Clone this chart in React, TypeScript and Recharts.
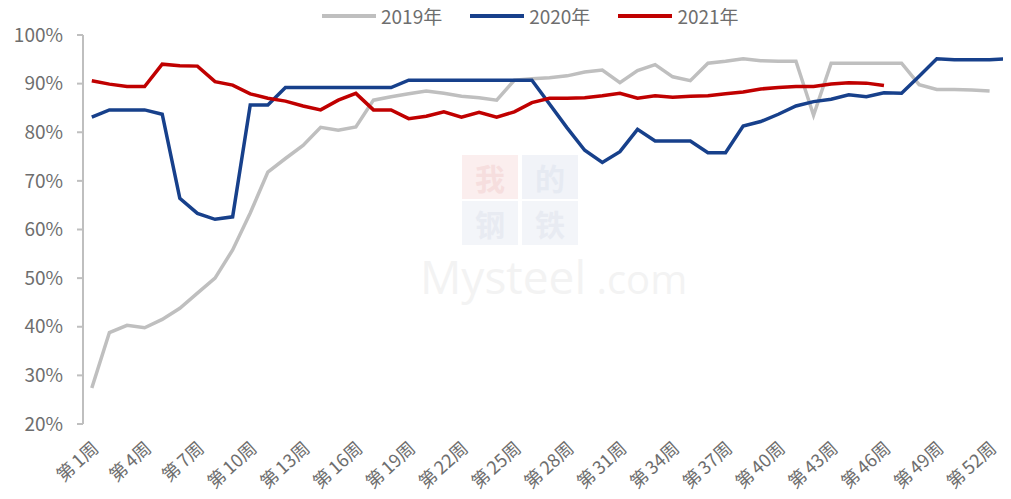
import { LineChart, Line, XAxis, YAxis } from 'recharts'

const weeks = [
  1, 2, 3, 4, 5, 6, 7, 8, 9, 10, 11, 12, 13, 14, 15, 16, 17, 18, 19, 20, 21, 22, 23, 24, 25, 26, 27,
  28, 29, 30, 31, 32, 33, 34, 35, 36, 37, 38, 39, 40, 41, 42, 43, 44, 45, 46, 47, 48, 49, 50, 51, 52, 53,
]

const labelWeeks = [1, 4, 7, 10, 13, 16, 19, 22, 25, 28, 31, 34, 37, 40, 43, 46, 49, 52]

const yTicks = [20, 30, 40, 50, 60, 70, 80, 90, 100]

const y2019 = [
  27.4, 38.8, 40.3, 39.8, 41.5, 43.8, 46.9, 50.0, 55.8, 63.4, 71.8, 74.6, 77.3, 81.0, 80.4, 81.1, 86.6,
  87.3, 87.9, 88.5, 88.0, 87.4, 87.1, 86.6, 90.7, 91.0, 91.2, 91.6, 92.4, 92.8, 90.2, 92.7, 93.9, 91.4,
  90.6, 94.2, 94.6, 95.1, 94.7, 94.6, 94.6, 83.5, 94.2, 94.2, 94.2, 94.2, 94.2, 89.8, 88.8, 88.8, 88.7,
  88.5, null,
]

const y2020 = [
  83.1, 84.6, 84.6, 84.6, 83.7, 66.4, 63.3, 62.1, 62.6, 85.6, 85.6, 89.2, 89.2, 89.2, 89.2, 89.2, 89.2,
  89.2, 90.7, 90.7, 90.7, 90.7, 90.7, 90.7, 90.7, 90.7, 85.8, 80.9, 76.3, 73.8, 76.0, 80.6, 78.2, 78.2,
  78.2, 75.8, 75.8, 81.3, 82.2, 83.7, 85.4, 86.3, 86.8, 87.7, 87.3, 88.1, 88.0, 91.5, 95.1, 94.9, 94.9,
  94.9, 95.1,
]

const y2021 = [
  90.6, 89.9, 89.4, 89.4, 94.0, 93.7, 93.6, 90.4, 89.7, 87.9, 87.0, 86.4, 85.4, 84.6, 86.6, 88.0, 84.6,
  84.6, 82.8, 83.3, 84.2, 83.1, 84.1, 83.1, 84.2, 86.1, 87.0, 87.0, 87.1, 87.5, 88.0, 87.0, 87.5, 87.2,
  87.4, 87.5, 87.9, 88.3, 88.9, 89.2, 89.4, 89.4, 89.9, 90.2, 90.1, 89.6, null, null, null, null, null,
  null, null,
]

const series = [
  { key: 'y2019', name: '2019年', color: '#bfbfbf' },
  { key: 'y2020', name: '2020年', color: '#17408b' },
  { key: 'y2021', name: '2021年', color: '#c00000' },
]

const data = weeks.map((w, i) => ({
  week: w,
  y2019: y2019[i],
  y2020: y2020[i],
  y2021: y2021[i],
}))

const boundaries = [0.5, ...weeks.map((w) => w + 0.5)]

const font = '"Noto Sans CJK SC", "Noto Sans", sans-serif'
const textColor = '#6e6e6e'

function WeekTick(props: any) {
  const { x, y, payload } = props
  return (
    <g transform={`translate(${x + 8},${y + 18})`}>
      <text
        x={0}
        y={0}
        textAnchor="end"
        transform="rotate(-42)"
        fill={textColor}
        fontSize={18}
        fontFamily={font}
      >
        <tspan>第</tspan>
        <tspan dx={3}>{payload.value}周</tspan>
      </text>
    </g>
  )
}

function Watermark() {
  const box = (bg: string, fg: string, ch: string) => (
    <div
      style={{
        width: 56,
        height: 44,
        background: bg,
        color: fg,
        fontSize: 30,
        lineHeight: '44px',
        overflow: 'hidden',
        textAlign: 'center',
        fontFamily: '"Noto Sans CJK SC"',
        fontWeight: 700,
      }}
    >
      {ch}
    </div>
  )
  return (
    <div style={{ position: 'absolute', left: 412, top: 147, pointerEvents: 'none' }}>
      <div style={{ display: 'flex', gap: 4, marginLeft: 42 }}>
        {box('#fbeeee', '#f6dede', '我')}
        {box('#f1f3f8', '#e6eaf2', '的')}
      </div>
      <div style={{ display: 'flex', gap: 4, marginLeft: 42, marginTop: 2 }}>
        {box('#f3f5f9', '#e8ebf2', '钢')}
        {box('#f3f5f9', '#e8ebf2', '铁')}
      </div>
      <div
        style={{
          fontFamily: '"Open Sans", sans-serif',
          fontSize: 46,
          lineHeight: '46px',
          color: '#f3f3f3',
          marginTop: 8,
        }}
      >
        Mysteel<span style={{ fontSize: 40 }}> .com</span>
      </div>
    </div>
  )
}

export default function App() {
  return (
    <div style={{ position: 'relative', width: 1003, height: 491 }}>
      <div style={{ position: 'absolute', left: 0, top: 0, width: 1003, height: 491, overflow: 'hidden' }}>
        <Watermark />
        <LineChart
          width={1008}
          height={491}
          data={data}
          margin={{ top: 27, right: 0, bottom: 0, left: 0 }}
          style={{ position: 'absolute', left: 0, top: 0 }}
        >
          <YAxis
            width={75}
            domain={[20, 100]}
            ticks={yTicks}
            tickFormatter={(v: number) => `${v}%`}
            stroke="#bfbfbf"
            strokeWidth={2}
            tickSize={6}
            tickMargin={14}
            tick={{ fill: textColor, fontSize: 19, fontFamily: font }}
            interval={0}
          />
          <XAxis
            xAxisId="grid"
            type="number"
            dataKey="week"
            domain={[0.5, 53.5]}
            ticks={boundaries}
            interval={0}
            tick={false}
            height={0}
            stroke="#bfbfbf"
            strokeWidth={2}
            tickSize={6}
          />
          <XAxis
            xAxisId="labels"
            type="number"
            dataKey="week"
            domain={[0.5, 53.5]}
            ticks={labelWeeks}
            interval={0}
            axisLine={false}
            tickLine={false}
            height={75}
            tick={<WeekTick />}
          />
          {series.map((s) => (
            <Line
              key={s.key}
              xAxisId="grid"
              type="linear"
              dataKey={s.key}
              name={s.name}
              stroke={s.color}
              strokeWidth={3.5}
              dot={false}
              activeDot={false}
              connectNulls={false}
              isAnimationActive={false}
            />
          ))}
        </LineChart>
      </div>
      <div
        style={{
          position: 'absolute',
          left: 0,
          top: -4,
          width: 1003,
          display: 'flex',
          paddingLeft: 314,
          boxSizing: 'border-box',
          fontFamily: font,
          fontSize: 19,
          color: textColor,
          lineHeight: '24px',
        }}
      >
        {series.map((s) => (
          <div key={s.key} style={{ display: 'flex', alignItems: 'center', marginRight: 28 }}>
            <span
              style={{ display: 'inline-block', width: 54, height: 4, background: s.color, marginRight: 5 }}
            />
            <span>{s.name}</span>
          </div>
        ))}
      </div>
    </div>
  )
}
